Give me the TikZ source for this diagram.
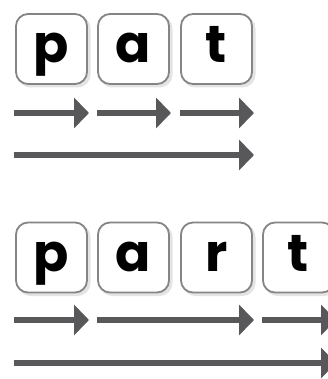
\documentclass[tikz,border=0pt]{standalone}
\usepackage{fontspec}
\setmainfont{Poppins}
\usetikzlibrary{arrows.meta}
\definecolor{boxline}{HTML}{858585}
\definecolor{arrowgray}{HTML}{58585A}
\definecolor{shadowgray}{HTML}{E4E4E4}
\tikzset{
  x=1pt, y=1pt,
  letterbox/.style={draw=boxline, line width=1.8pt, fill=white,
    rounded corners=12pt, minimum width=71pt, minimum height=70pt,
    inner sep=0pt, font=\fontsize{52}{52}\selectfont\bfseries,
    text height=38pt, text depth=10pt,
    preaction={draw=shadowgray, fill=shadowgray, line width=2pt,
      transform canvas={shift={(2.5pt,-2.5pt)}}}},
  flow/.style={draw=arrowgray, line width=6pt,
    -{Triangle[length=15pt,width=30pt]}, shorten >=-1pt}
}
\begin{document}
\begin{tikzpicture}
\useasboundingbox (0,0) rectangle (328,-379);
\clip (0,0) rectangle (328,-379);
\fill[white] (0,0) rectangle (328,-379);

% first word: p a t
\node[letterbox] (t1) at (51.5,-49) {p};
\node[letterbox] (t2) at (133.5,-49) {a};
\node[letterbox] (t3) at (216.5,-49) {t};

\coordinate (ta0) at (14,-113);
\coordinate (ta1) at (88,-113);
\coordinate (tb0) at (97,-113);
\coordinate (tb1) at (170,-113);
\coordinate (tc0) at (180,-113);
\coordinate (tc1) at (253,-113);
\coordinate (tl0) at (14,-155);
\coordinate (tl1) at (253,-155);

\draw[flow] (ta0) -- (ta1);
\draw[flow] (tb0) -- (tb1);
\draw[flow] (tc0) -- (tc1);
\draw[flow] (tl0) -- (tl1);

% second word: p a r t
\node[letterbox] (b1) at (51.5,-257.5) {p};
\node[letterbox] (b2) at (133.5,-257.5) {a};
\node[letterbox] (b3) at (216.5,-257.5) {r};
\node[letterbox] (b4) at (298.5,-257.5) {t};

\coordinate (ba0) at (14,-320);
\coordinate (ba1) at (88,-320);
\coordinate (bb0) at (97,-320);
\coordinate (bb1) at (253,-320);
\coordinate (bc0) at (262,-320);
\coordinate (bc1) at (335,-320);
\coordinate (bl0) at (14,-363);
\coordinate (bl1) at (335,-363);

\draw[flow] (ba0) -- (ba1);
\draw[flow] (bb0) -- (bb1);
\draw[flow] (bc0) -- (bc1);
\draw[flow] (bl0) -- (bl1);
\end{tikzpicture}
\end{document}
